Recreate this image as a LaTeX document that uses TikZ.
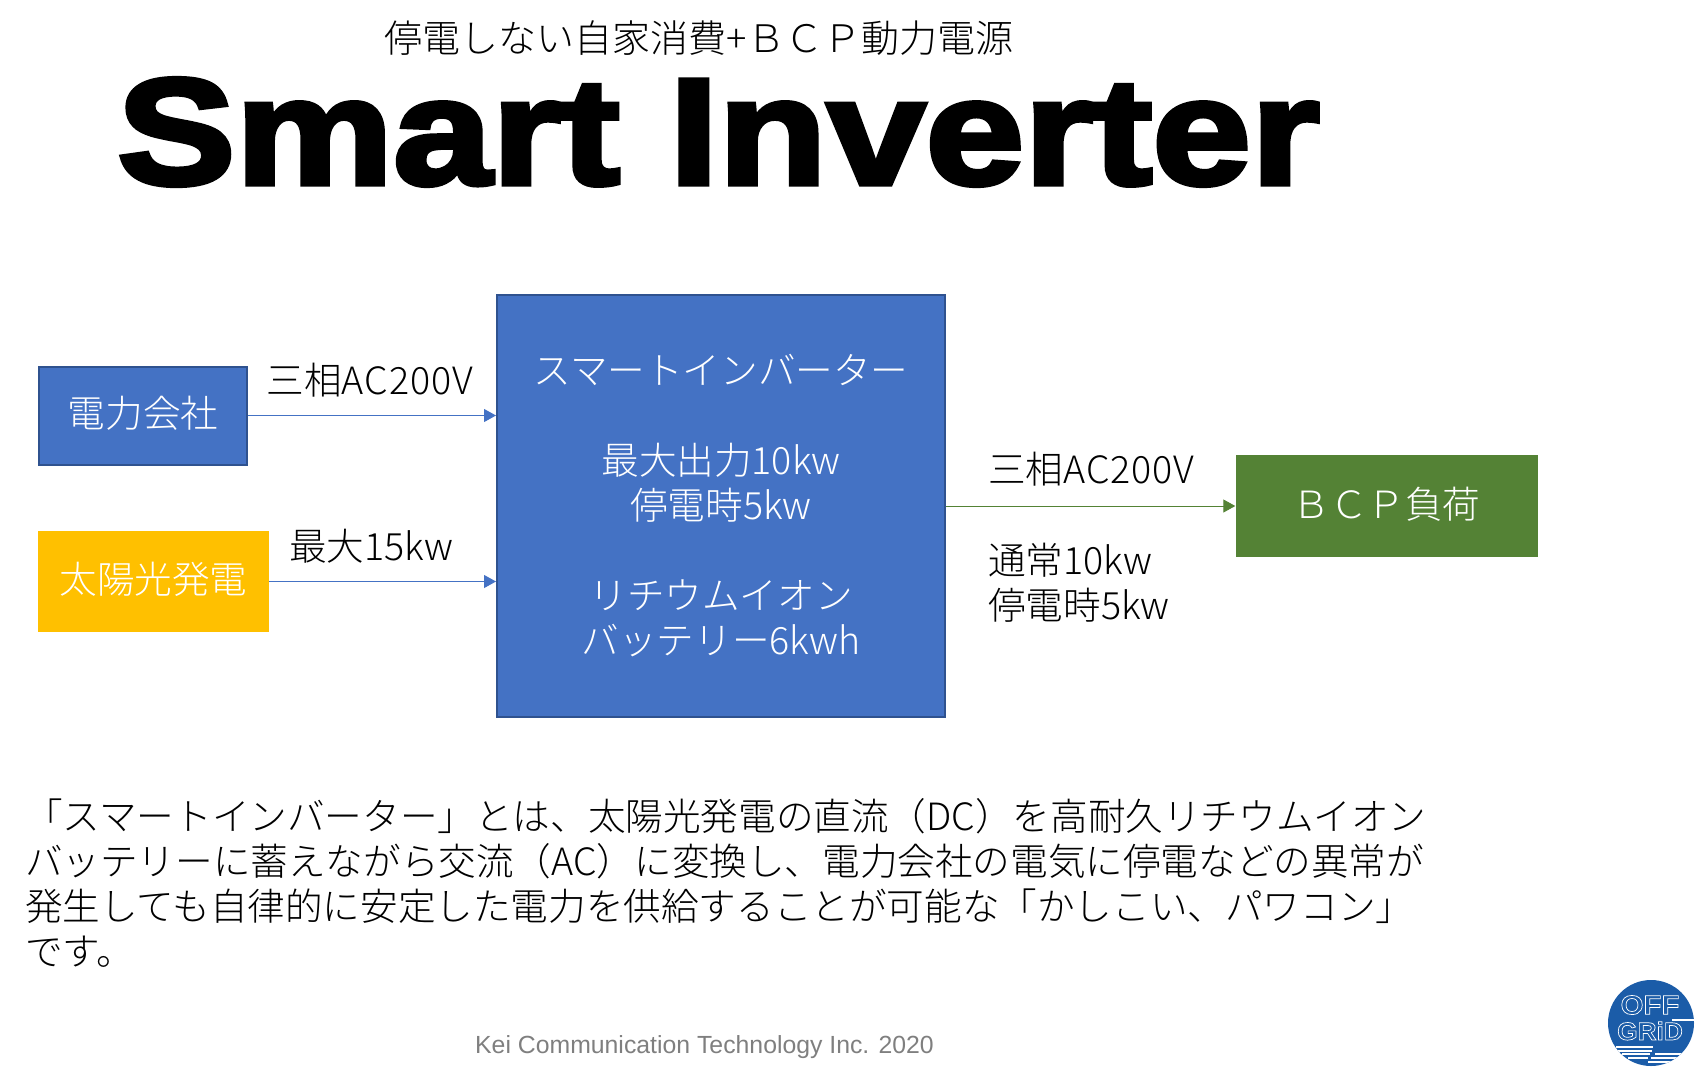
\documentclass[tikz,border=0pt]{standalone}
\usepackage{fontspec}
\setmainfont{Noto Sans CJK JP}[UprightFont=* Light]
\newfontfamily\titlefont{Liberation Sans}[UprightFont=* Bold,FakeStretch=1.175,FakeBold=3.5]
\newfontfamily\footfont{Liberation Sans}
\newfontfamily\logofonta{Liberation Sans}[UprightFont=* Bold,FakeStretch=1.09]
\newfontfamily\logofontb{Liberation Sans}[UprightFont=* Bold,FakeStretch=1.05]
\definecolor{accent}{HTML}{4472C4}
\definecolor{accentdark}{HTML}{2F528F}
\definecolor{sun}{HTML}{FFC000}
\definecolor{load}{HTML}{548235}
\definecolor{footgray}{HTML}{7F7F7F}
\definecolor{logoblue}{HTML}{1B5CA8}
\usetikzlibrary{arrows.meta}
\newcommand{\upbit}[1]{\raisebox{7pt}{#1}}
\newcommand{\latwide}[1]{{\addfontfeature{LetterSpace=2.6}#1}}
\tikzset{
 x=1pt,y=-1pt,
 body/.style={font=\fontsize{37.6}{45}\selectfont,inner sep=0pt,align=center},
 lab/.style={font=\fontsize{37.6}{45}\selectfont,inner sep=0pt,anchor=west,align=left,text=black},
 bluebox/.style={draw=accentdark,line width=2pt,fill=accent,text=white,body},
 flatbox/.style={text=white,body},
 arr/.style={line width=1pt,-{Triangle[length=12pt,width=13pt]}},
}
\begin{document}
\begin{tikzpicture}
\useasboundingbox (0,0) rectangle (1700,1074);
% title
\node[anchor=base,inner sep=0pt,font=\fontsize{38}{45}\selectfont] (sub) at (699,52) {停電しない自家消費+ＢＣＰ動力電源};
\node[anchor=base west,inner sep=0pt,font=\titlefont\fontsize{151}{160}\selectfont] (title) at (117,184) {Smart Inverter};
% boxes
\node[bluebox,minimum width=208pt,minimum height=98pt] (util) at (143,415.5) {\upbit{電力会社}};
\node[flatbox,fill=sun,minimum width=231pt,minimum height=101pt] (solar) at (153.5,581.5) {\upbit{太陽光発電}};
\node[bluebox,minimum width=448pt,minimum height=422pt] (inv) at (721,505.5) {スマートインバーター\\\mbox{}\\最大出力10kw\\停電時5kw\\\mbox{}\\リチウムイオン\\バッテリー6kwh};
\node[flatbox,fill=load,minimum width=302pt,minimum height=102pt] (bcp) at (1386.5,506) {\upbit{ＢＣＰ負荷}};
% connectors
\draw[arr,draw=accent] (util.east) -- (util.east -| inv.west);
\draw[arr,draw=accent] (solar.east) -- (solar.east -| inv.west);
\draw[arr,draw=load] (bcp.west -| inv.east) -- (bcp.west);
% labels
\node[lab] (l1) at (266.5,380) {三相\latwide{AC200V}};
\node[lab] (l2) at (289,546) {最大15kw};
\node[lab] (l3) at (988,469) {三相\latwide{AC200V}};
\node[lab,anchor=north west] (l4) at (988,542.5) {通常10kw\\停電時5kw};
% paragraph
\node[lab,anchor=north west] (para) at (25,798) {「スマートインバーター」とは、太陽光発電の直流（DC）を高耐久リチウムイオン\\
バッテリーに蓄えながら交流（AC）に変換し、電力会社の電気に停電などの異常が\\
発生しても自律的に安定した電力を供給することが可能な「かしこい、パワコン」\\
です。};
% footer
\node[anchor=base,inner sep=0pt,text=footgray,font=\footfont\fontsize{24.8}{30}\selectfont] (foot) at (704.5,1053) {Kei Communication Technology Inc. 2020};
% logo
\fill[logoblue] (1651,1023) circle (43);
\begin{scope}
\clip (1651,1023) circle (43);
\draw[white,line width=1.2pt] (1672,1020) -- (1695,1020);
\draw[white,line width=1.6pt] (1616,1047) -- (1653,1047);
\draw[white,line width=1.6pt] (1618,1051) -- (1652,1051);
\draw[white,line width=1.6pt] (1622,1054) -- (1650,1054) (1655,1054) -- (1682,1054);
\draw[white,line width=1.6pt] (1628,1058) -- (1648,1058) (1651,1058) -- (1678,1058);
\draw[white,line width=1.6pt] (1648,1062) -- (1672,1062);
\end{scope}
\node[inner sep=0pt,font=\logofonta\fontsize{27}{27}\selectfont,text=white] (off) at (1650,1005) {\special{pdf:code q 1 Tr 0.7 w 1 1 1 RG}OFF\special{pdf:code Q}};
\node[inner sep=0pt,font=\logofontb\fontsize{25}{25}\selectfont,text=white] (grid) at (1650,1031) {\special{pdf:code q 1 Tr 0.7 w 1 1 1 RG}GRiD\special{pdf:code Q}};
\end{tikzpicture}
\end{document}
